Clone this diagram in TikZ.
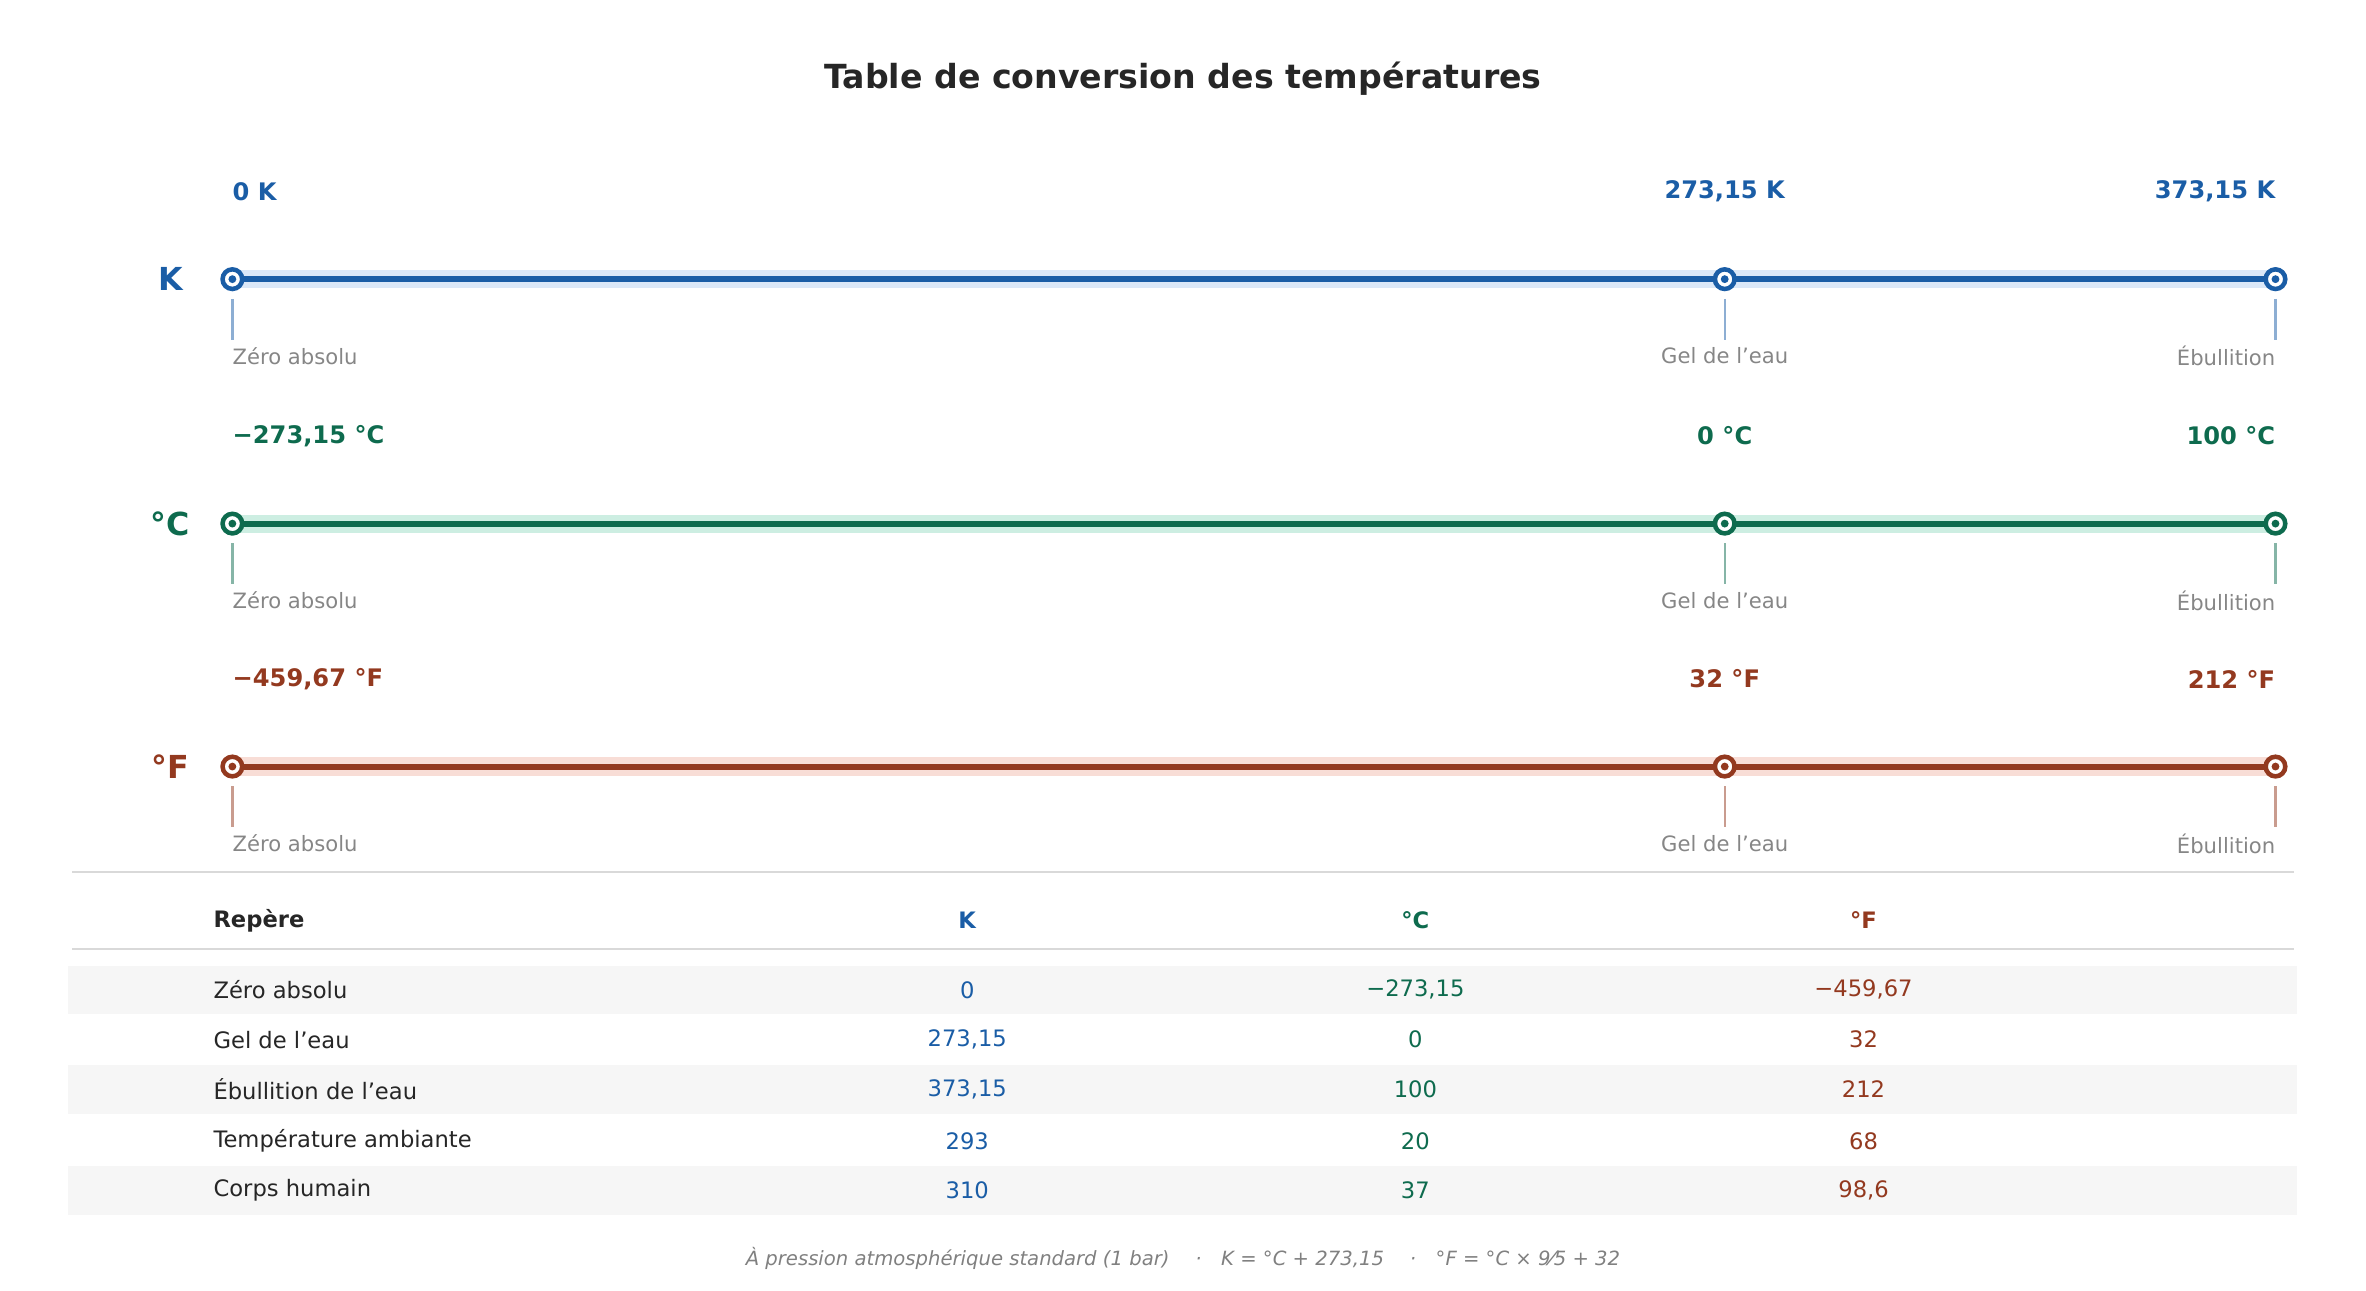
\documentclass[tikz,border=0pt]{standalone}
\usepackage{fontspec}
\setmainfont{DejaVu Sans}
\begin{document}
\begin{tikzpicture}[x=1pt,y=-1pt,
  val/.style={font=\fontsize{16}{18}\selectfont\bfseries},
  sub/.style={font=\fontsize{14}{16}\selectfont,text=gray!95},
  axl/.style={font=\fontsize{21}{24}\selectfont\bfseries},
  cell/.style={font=\fontsize{15}{17}\selectfont},
  hd/.style={font=\fontsize{15}{17}\selectfont\bfseries}]
\definecolor{cK}{HTML}{1A5DA6}\definecolor{cC}{HTML}{0E6B4E}\definecolor{cF}{HTML}{93391F}
\definecolor{bK}{HTML}{DBE8F8}\definecolor{bC}{HTML}{CDEEE2}\definecolor{bF}{HTML}{F8DDD6}
\definecolor{ink}{HTML}{262626}
\useasboundingbox (0,0) rectangle (1568,855);
\node[font=\fontsize{22}{26}\selectfont\bfseries,text=ink] (title) at (784,52) {Table de conversion des températures};
\foreach \y/\c/\b/\u/\va/\vb/\vc/\nm in {185/cK/bK/K/{0 K}/{273,15 K}/{373,15 K}/k, 347/cC/bC/°C/{−273,15 °C}/{0 °C}/{100 °C}/c, 508/cF/bF/°F/{−459,67 °F}/{32 °F}/{212 °F}/f}{
  \node[axl,text=\c] (lab\nm) at (113,\y) {\u};
  \fill[\b] (154,\y-6) rectangle (1508,\y+6);
  \coordinate (a\nm) at (154,\y); \coordinate (g\nm) at (1143,\y); \coordinate (e\nm) at (1508,\y);
  \draw[\c,line width=4] (a\nm) -- (e\nm);
  \foreach \p in {a,g,e}{
    \draw[\c!50,line width=1.5] ([yshift=-13]\p\nm) -- ([yshift=-40]\p\nm);
    \fill[white] (\p\nm) circle (6.5);
    \draw[\c,line width=3] (\p\nm) circle (6.5);
    \fill[\c] (\p\nm) circle (2.6);
  }
  \node[val,text=\c,anchor=west,inner sep=0] (va\nm) at (154,\y-58) {\va};
  \node[val,text=\c,inner sep=0] (vb\nm) at (1143,\y-58) {\vb};
  \node[val,text=\c,anchor=east,inner sep=0] (vc\nm) at (1508,\y-58) {\vc};
  \node[sub,anchor=west,inner sep=0] (sa\nm) at (154,\y+51) {Zéro absolu};
  \node[sub,inner sep=0] (sb\nm) at (1143,\y+51) {Gel de l'eau};
  \node[sub,anchor=east,inner sep=0] (sc\nm) at (1508,\y+51) {Ébullition};
}
\draw[gray!30,line width=1] (48,578) -- (1520,578);
\draw[gray!30,line width=1] (48,629) -- (1520,629);
\foreach \y in {656,722,789} \fill[gray!7] (45,\y-16) rectangle (1522,\y+16);
\node[hd,text=ink,anchor=west] (h0) at (138,610) {Repère};
\node[hd,text=cK] (h1) at (641,610) {K};
\node[hd,text=cC] (h2) at (938,610) {°C};
\node[hd,text=cF] (h3) at (1235,610) {°F};
\foreach \y/\n/\k/\cc/\f [count=\i] in {656/Zéro absolu/0/{−273,15}/{−459,67}, 689/Gel de l'eau/{273,15}/0/32, 722/Ébullition de l'eau/{373,15}/100/212, 756/Température ambiante/293/20/68, 789/Corps humain/310/37/{98,6}}{
  \node[cell,text=ink,anchor=west] (r\i) at (138,\y) {\n};
  \node[cell,text=cK] (rk\i) at (641,\y) {\k};
  \node[cell,text=cC] (rc\i) at (938,\y) {\cc};
  \node[cell,text=cF] (rf\i) at (1235,\y) {\f};
}
\node[font=\fontsize{13}{15}\selectfont\itshape,text=gray] (foot) at (784,834) {À pression atmosphérique standard (1 bar) \quad·\quad K = °C + 273,15 \quad·\quad °F = °C × 9⁄5 + 32};
\end{tikzpicture}
\end{document}
